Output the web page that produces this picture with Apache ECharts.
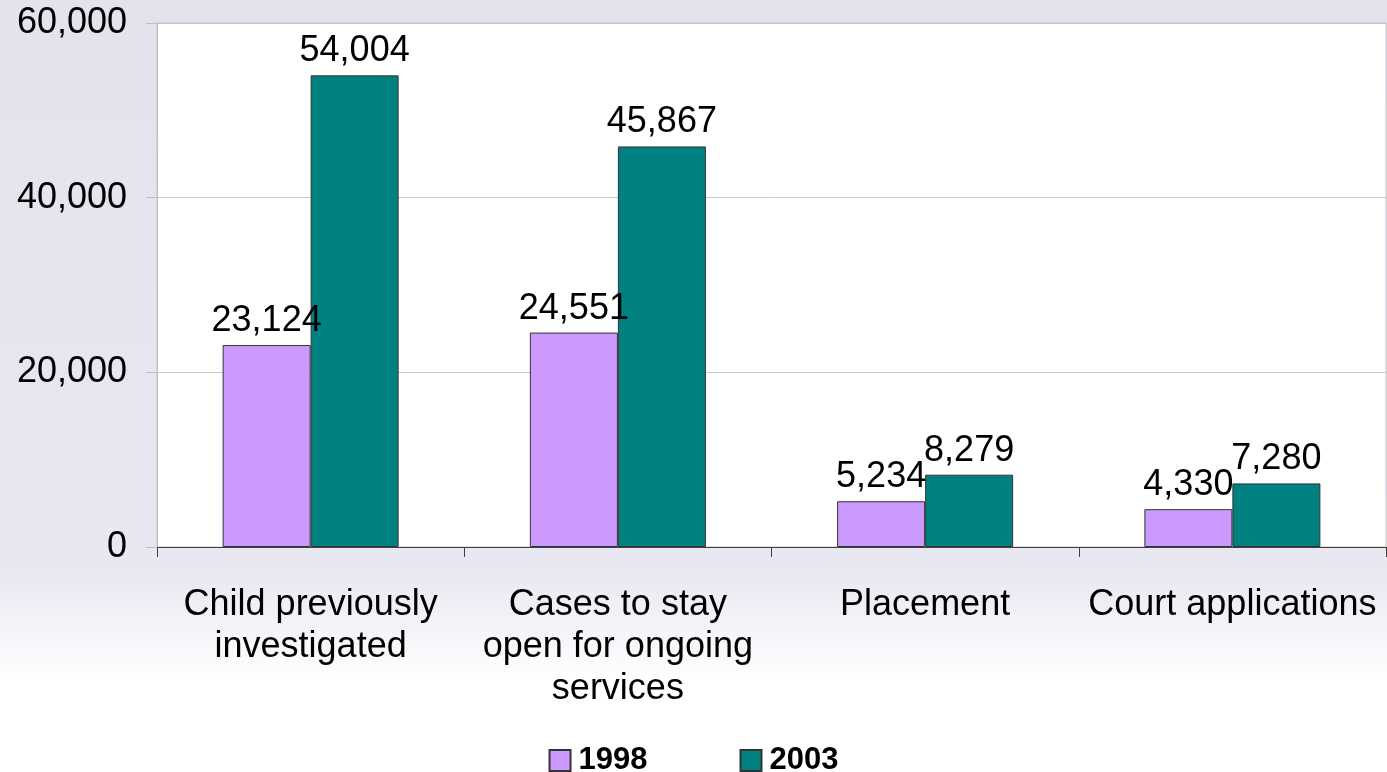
<!DOCTYPE html>
<html>
<head>
<meta charset="utf-8">
<script src="https://cdn.jsdelivr.net/npm/echarts@6/dist/echarts.min.js"></script>
<style>
  html, body { margin: 0; padding: 0; }
  #main { width: 1387px; height: 772px; }
</style>
</head>
<body>
<div id="main"></div>
<script>
var categories = ['Child previously\ninvestigated', 'Cases to stay\nopen for ongoing\nservices', 'Placement', 'Court applications'];
var seriesNames = ['1998', '2003'];
var values1998 = [23124, 24551, 5234, 4330];
var values2003 = [54004, 45867, 8279, 7280];
var yMin = 0, yMax = 60000, yStep = 20000;

var font = 'Liberation Sans, Arial, sans-serif';
function fmt(v) { return Number(v).toLocaleString('en-US'); }

var myChart = echarts.init(document.getElementById('main'));
myChart.setOption({
  backgroundColor: new echarts.graphic.LinearGradient(0, 0, 0, 1, [
    { offset: 0, color: '#e3e3ee' },
    { offset: 0.74, color: '#e8e8f2' },
    { offset: 0.88, color: '#ffffff' },
    { offset: 1, color: '#ffffff' }
  ]),
  textStyle: { fontFamily: font },
  grid: {
    left: 157, right: 1, top: 23, bottom: 225,
    show: true,
    backgroundColor: '#ffffff',
    borderColor: '#c0c0c0',
    borderWidth: 1
  },
  legend: {
    data: seriesNames,
    top: 740,
    left: 'center',
    itemWidth: 21,
    itemHeight: 21,
    itemGap: 92,
    icon: 'rect',
    textStyle: { fontSize: 31, fontWeight: 'bold', color: '#000', fontFamily: font, padding: [0, 0, 0, 3] }
  },
  xAxis: {
    type: 'category',
    data: categories,
    axisLine: { lineStyle: { color: '#404040', width: 1 } },
    axisTick: { show: true, length: 10, lineStyle: { color: '#404040' } },
    axisLabel: { fontSize: 36, color: '#000', lineHeight: 42, margin: 37, interval: 0 }
  },
  yAxis: {
    type: 'value',
    min: yMin, max: yMax, interval: yStep,
    axisLine: { show: true, lineStyle: { color: '#c0c0c0' } },
    axisTick: { show: true, length: 11, lineStyle: { color: '#c0c0c0' } },
    splitLine: { lineStyle: { color: '#c8c8c8' } },
    axisLabel: { fontSize: 36, color: '#000', margin: 30, formatter: fmt }
  },
  series: [
    {
      name: seriesNames[0], type: 'bar', data: values1998,
      barWidth: 88, barGap: '0%',
      itemStyle: { color: '#cc99ff', borderColor: '#333', borderWidth: 1 },
      label: { show: true, position: 'top', distance: 6, fontSize: 36, color: '#000', formatter: function (p) { return fmt(p.value); } }
    },
    {
      name: seriesNames[1], type: 'bar', data: values2003,
      barWidth: 88, barGap: '0%',
      itemStyle: { color: '#008080', borderColor: '#333', borderWidth: 1 },
      label: { show: true, position: 'top', distance: 6, fontSize: 36, color: '#000', formatter: function (p) { return fmt(p.value); } }
    }
  ]
});
</script>
</body>
</html>
